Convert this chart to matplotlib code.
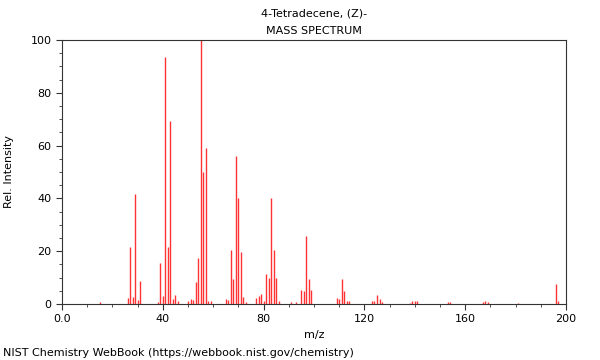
import matplotlib
matplotlib.use('Agg')
import matplotlib.pyplot as plt
from matplotlib.ticker import MultipleLocator

# m/z and relative intensity
mz = [15, 26, 27, 28, 29, 30, 31, 38, 39, 40, 41, 42, 43, 44, 45, 46,
      50, 51, 52, 53, 54, 55, 56, 57, 58, 59,
      65, 66, 67, 68, 69, 70, 71, 72, 73,
      77, 78, 79, 80, 81, 82, 83, 84, 85, 86,
      91, 93, 95, 96, 97, 98, 99,
      109, 110, 111, 112, 113, 114,
      123, 124, 125, 126, 127,
      138, 139, 140, 141, 153, 154, 167, 168, 169, 181, 196, 197]
intensity = [0.7, 2.4, 21.5, 2.8, 41.7, 1.5, 8.8, 0.9, 15.6, 3.0, 93.4, 21.5, 69.3, 2.0, 3.4, 1.0,
             1.1, 2.0, 1.5, 8.5, 17.4, 100.0, 50.1, 59.2, 1.0, 1.0,
             2.0, 1.5, 20.5, 9.3, 56.0, 40.0, 19.7, 2.8, 0.8,
             2.4, 3.0, 3.7, 1.0, 11.2, 10.0, 40.0, 20.3, 10.0, 1.2,
             0.8, 0.8, 5.2, 5.0, 25.8, 9.6, 5.4,
             2.4, 1.8, 9.5, 5.0, 1.0, 1.0,
             1.2, 1.2, 3.4, 2.0, 0.8,
             0.5, 1.1, 1.0, 1.1, 0.6, 0.6, 0.6, 1.0, 0.6, 0.5, 7.6, 1.3]

title = "4-Tetradecene, (Z)-\nMASS SPECTRUM"
footer = "NIST Chemistry WebBook (https://webbook.nist.gov/chemistry)"

fig = plt.figure(figsize=(6, 3.6), dpi=100)
ax = fig.add_axes([0.1033, 0.1556, 0.84, 0.7333])

ax.vlines(mz, 0, intensity, colors='#ff3333', linewidth=1.0)

ax.set_xlim(0, 200)
ax.set_ylim(0, 100)
ax.xaxis.set_major_locator(MultipleLocator(40))
ax.xaxis.set_minor_locator(MultipleLocator(10))
ax.yaxis.set_major_locator(MultipleLocator(20))
ax.yaxis.set_minor_locator(MultipleLocator(5))
ax.set_xticks([0, 40, 80, 120, 160, 200])
ax.set_xticklabels(['0.0', '40', '80', '120', '160', '200'])
ax.tick_params(which='major', direction='out', length=4, labelsize=8, color='#333333')
ax.tick_params(which='minor', direction='out', length=2, color='#333333')
for s in ax.spines.values():
    s.set_color('#333333')

ax.set_xlabel('m/z', fontsize=8)
ax.set_ylabel('Rel. Intensity', fontsize=8, labelpad=12)
ax.set_title(title, fontsize=8, linespacing=2.0, pad=4)
fig.text(0.005, 0.012, footer, fontsize=8)

fig.savefig('out.png', dpi=100)
